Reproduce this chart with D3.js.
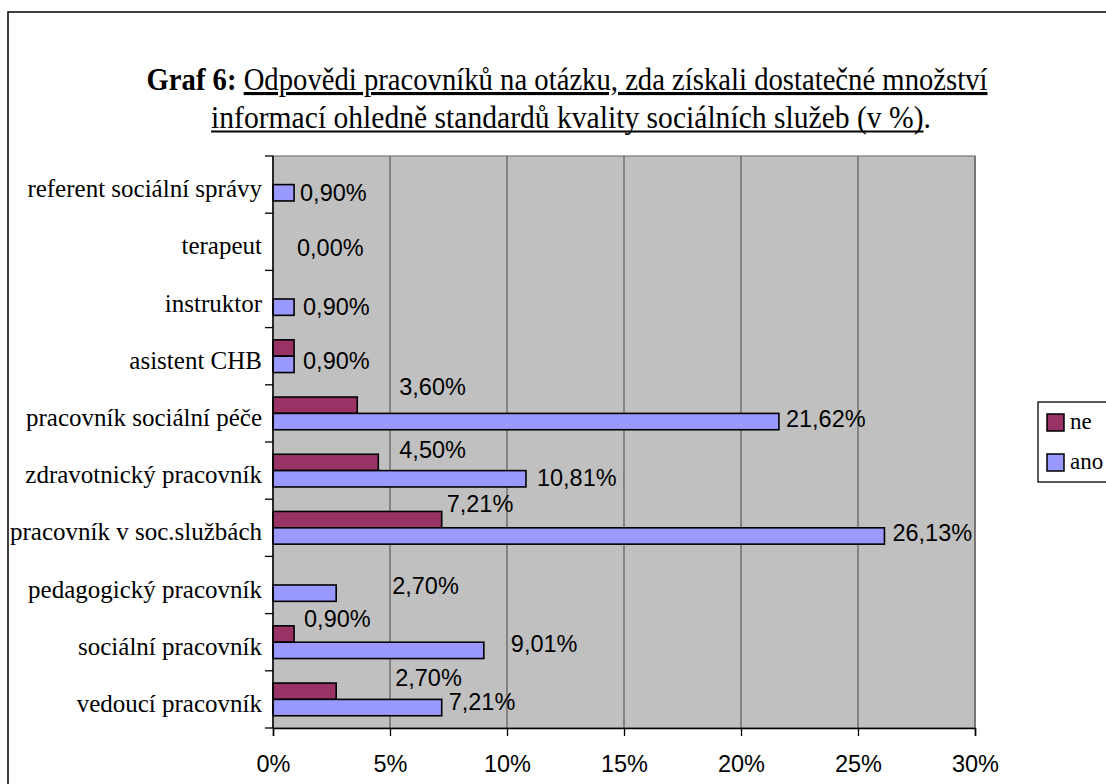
<!DOCTYPE html>
<html>
<head>
<meta charset="utf-8">
<script src="https://cdn.jsdelivr.net/npm/d3@7"></script>
<style>
  html, body { margin: 0; padding: 0; background: #fff; }
  svg { display: block; }
</style>
</head>
<body>
<svg id="chart" width="1106" height="784"></svg>
<script>
// Worker categories, bottom to top as they appear on the axis
const categories = [
  "vedoucí pracovník",
  "sociální pracovník",
  "pedagogický pracovník",
  "pracovník v soc.službách",
  "zdravotnický pracovník",
  "pracovník sociální péče",
  "asistent CHB",
  "instruktor",
  "terapeut",
  "referent sociální správy"
];
const seriesNames = ["ne", "ano"];
const neValues  = [2.70, 0.90, 0.00, 7.21, 4.50, 3.60, 0.90, 0.00, 0.00, 0.00];
const anoValues = [7.21, 9.01, 2.70, 26.13, 10.81, 21.62, 0.90, 0.90, 0.00, 0.90];
const xTicks = [0, 5, 10, 15, 20, 25, 30];

// Label nudges [dx, dy] from the bar end / bar centre, per category
// (null: label sits under the other series' label and is not drawn)
const neLabelNudge  = [[59, -14], [10, -15], null, [5, -16], [21, -13], [42, -19], null, null, null, null];
const anoLabelNudge = [[7, -6], [27, -7], [56, -8], [8, -3], [11, -1], [7, -3], [9, -4], [9, -1], [24, -2], [6, 0]];

const colors = { ne: "#993366", ano: "#9999FF" };
const fmt = v => v.toFixed(2).replace(".", ",") + "%";
const serif = "'Liberation Serif', 'Times New Roman', serif";
const sans = "'Liberation Sans', Arial, sans-serif";

const svg = d3.select("#chart");

// outer chart frame (runs off the right and bottom edges)
svg.append("rect")
  .attr("x", 8).attr("y", 12)
  .attr("width", 1110).attr("height", 790)
  .attr("fill", "#fff").attr("stroke", "#000").attr("stroke-width", 1.5);

// title, set in a narrow, tall cut
const title = svg.append("g").attr("font-family", serif).attr("font-size", 31).attr("fill", "#000");
const t1 = title.append("text").attr("x", 567).attr("y", 90).attr("text-anchor", "middle")
  .attr("textLength", 841).attr("lengthAdjust", "spacingAndGlyphs");
t1.append("tspan").attr("font-weight", "bold").text("Graf 6: ");
t1.append("tspan").attr("text-decoration", "underline").text("Odpovědi pracovníků na otázku, zda získali dostatečné množství");

// second line: underline stops before the closing full stop
const line2 = "informací ohledně standardů kvality sociálních služeb (v %).";
const g2 = title.append("g").attr("transform", "translate(571,128) scale(0.955,1)");
const t2 = g2.append("text").attr("x", 0).attr("y", 0).attr("text-anchor", "middle").text(line2);
const fullW = t2.node().getComputedTextLength();
const underW = t2.node().getSubStringLength(0, line2.length - 1);
g2.append("line")
  .attr("x1", -fullW / 2).attr("x2", -fullW / 2 + underW)
  .attr("y1", 3.5).attr("y2", 3.5)
  .attr("stroke", "#000").attr("stroke-width", 1.8);

// plot area
const plot = { left: 273, right: 975, top: 156, bottom: 728 };

const x = d3.scaleLinear().domain([0, 30]).range([plot.left, plot.right]);
const y = d3.scaleBand().domain(categories.slice().reverse()).range([plot.top, plot.bottom]).paddingInner(0).paddingOuter(0);
// the bar pair fills the middle of each category band (gap width 150 %)
const inner = d3.scaleBand().domain(seriesNames).range([0, y.bandwidth()]).paddingInner(0).paddingOuter(0.75);

svg.append("rect")
  .attr("x", plot.left).attr("y", plot.top)
  .attr("width", plot.right - plot.left).attr("height", plot.bottom - plot.top)
  .attr("fill", "#C0C0C0").attr("stroke", "#808080").attr("stroke-width", 1.3);

// vertical gridlines
svg.append("g").selectAll("line").data(xTicks.slice(1))
  .join("line")
  .attr("x1", d => x(d)).attr("x2", d => x(d))
  .attr("y1", plot.top).attr("y2", plot.bottom)
  .attr("stroke", "#5a5a5a").attr("stroke-width", 1.2);

// rows of data
const rows = categories.map((c, i) => ({ cat: c, ne: neValues[i], ano: anoValues[i], i }));

const barG = svg.append("g");
seriesNames.forEach(s => {
  barG.selectAll("rect." + s).data(rows.filter(r => r[s] > 0))
    .join("rect")
    .attr("class", s)
    .attr("x", x(0))
    .attr("y", r => y(r.cat) + inner(s))
    .attr("width", r => x(r[s]) - x(0))
    .attr("height", inner.bandwidth())
    .attr("fill", colors[s])
    .attr("stroke", "#000").attr("stroke-width", 1.6);
});

// value labels
const labG = svg.append("g").attr("font-family", sans).attr("font-size", 23.5).attr("fill", "#000");
seriesNames.forEach(s => {
  const nudge = s === "ne" ? neLabelNudge : anoLabelNudge;
  const shown = rows.filter(r => nudge[r.i] !== null);
  labG.selectAll("text." + s).data(shown)
    .join("text")
    .attr("class", s)
    .attr("x", r => x(r[s]) + nudge[r.i][0])
    .attr("y", r => y(r.cat) + inner(s) + inner.bandwidth() / 2 + nudge[r.i][1])
    .attr("dy", "0.36em")
    .text(r => fmt(r[s]));
});

// y axis (category axis)
const yAxis = d3.axisLeft(y).tickSize(0).tickPadding(11);
const yg = svg.append("g").attr("transform", `translate(${plot.left},0)`).call(yAxis);
yg.select(".domain").remove();
yg.selectAll("text")
  .attr("font-family", serif)
  .attr("font-size", 25).attr("fill", "#000").attr("dy", "0.5em");
// tick marks on category boundaries
const bounds = d3.range(categories.length + 1).map(k => plot.top + k * y.step());
svg.append("g").selectAll("line").data(bounds)
  .join("line")
  .attr("x1", plot.left - 8).attr("x2", plot.left)
  .attr("y1", d => d).attr("y2", d => d)
  .attr("stroke", "#000").attr("stroke-width", 1.3);
svg.append("line")
  .attr("x1", plot.left).attr("x2", plot.left)
  .attr("y1", plot.top).attr("y2", plot.bottom)
  .attr("stroke", "#000").attr("stroke-width", 1.5);

// x axis
const xAxis = d3.axisBottom(x).tickValues(xTicks).tickSize(8).tickPadding(19).tickFormat(d => d + "%");
const xg = svg.append("g").attr("transform", `translate(0,${plot.bottom})`).call(xAxis);
xg.select(".domain").attr("stroke", "#000").attr("stroke-width", 1.5);
xg.selectAll(".tick line").attr("stroke", "#000").attr("stroke-width", 1.3);
xg.selectAll("text")
  .attr("font-family", sans)
  .attr("font-size", 23.5).attr("fill", "#000");

// legend
const leg = svg.append("g");
leg.append("rect")
  .attr("x", 1038).attr("y", 402).attr("width", 80).attr("height", 80)
  .attr("fill", "#fff").attr("stroke", "#000").attr("stroke-width", 1.3);
seriesNames.forEach((s, k) => {
  const cy = 422 + k * 40;
  leg.append("rect")
    .attr("x", 1047).attr("y", cy - 8).attr("width", 17).attr("height", 17)
    .attr("fill", colors[s]).attr("stroke", "#000").attr("stroke-width", 1.5);
  leg.append("text")
    .attr("x", 1070).attr("y", cy).attr("dy", "0.32em")
    .attr("font-family", serif)
    .attr("font-size", 23).text(s);
});
</script>
</body>
</html>
